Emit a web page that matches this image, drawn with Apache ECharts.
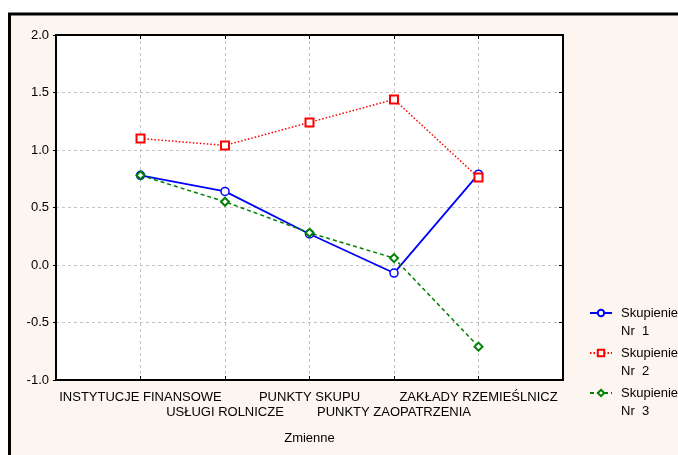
<!DOCTYPE html>
<html>
<head>
<meta charset="utf-8">
<script src="https://cdn.jsdelivr.net/npm/echarts@6/dist/echarts.min.js"></script>
<style>
  html, body { margin: 0; padding: 0; background: #ffffff; }
  #chart { width: 678px; height: 455px; }
</style>
</head>
<body>
<div id="chart"></div>
<script>
// values
var categories = ['INSTYTUCJE FINANSOWE', 'USŁUGI ROLNICZE', 'PUNKTY SKUPU', 'PUNKTY ZAOPATRZENIA', 'ZAKŁADY RZEMIEŚLNICZ'];
var seriesNames = ['Skupienie\nNr  1', 'Skupienie\nNr  2', 'Skupienie\nNr  3'];
var nr1 = [0.78, 0.64, 0.27, -0.07, 0.79];
var nr2 = [1.10, 1.04, 1.24, 1.44, 0.76];
var nr3 = [0.78, 0.55, 0.28, 0.06, -0.71];
var yTicks = [-1.0, -0.5, 0.0, 0.5, 1.0, 1.5, 2.0];

// empty slot at each end so the points sit one step in from the frame
var axisCats = [''].concat(categories).concat(['']);
function pad(arr) {
    return ['-'].concat(arr).concat(['-']);
}

var chart = echarts.init(document.getElementById('chart'));
var font = 'Liberation Sans, Arial, sans-serif';

chart.setOption({
    backgroundColor: '#ffffff',
    animation: false,
    graphic: [{
        type: 'rect',
        z: -10,
        silent: true,
        shape: {x: 9.5, y: 14, width: 700, height: 500},
        style: {fill: '#fdf5ef', stroke: '#000000', lineWidth: 3}
    }],
    grid: {
        left: 56, right: 115, top: 35, bottom: 75,
        show: true,
        backgroundColor: '#ffffff',
        borderColor: '#000000',
        borderWidth: 2
    },
    legend: {
        orient: 'vertical',
        left: 584,
        top: 281,
        itemWidth: 22,
        itemHeight: 8,
        itemGap: -14,
        data: seriesNames,
        // blank first line so the icon lines up with "Skupienie"
        formatter: function (name) { return '\n' + name; },
        textStyle: {
            fontFamily: font, fontSize: 13, color: '#000000', lineHeight: 18,
            padding: [0, 0, 0, 4]
        }
    },
    xAxis: [{
        type: 'category',
        boundaryGap: false,
        data: axisCats,
        name: 'Zmienne',
        nameLocation: 'middle',
        nameGap: 52,
        nameTextStyle: {fontFamily: font, fontSize: 13, color: '#000000'},
        axisLine: {show: true, onZero: false, lineStyle: {color: '#000000', width: 2}},
        axisTick: {show: true, inside: true, length: 4, interval: 0, lineStyle: {color: '#000000'}},
        axisLabel: {
            interval: 0,
            margin: 10,
            fontFamily: font, fontSize: 13, color: '#000000',
            lineHeight: 15,
            formatter: function (v, i) {
                return (i % 2 === 0 && v !== '') ? '\n' + v : v;
            }
        },
        splitLine: {show: true, interval: 0, lineStyle: {color: '#c4c4c4', type: [3, 3], width: 1}}
    }, {
        type: 'category',
        position: 'top',
        boundaryGap: false,
        data: axisCats,
        axisLine: {show: true, onZero: false, lineStyle: {color: '#000000', width: 2}},
        axisTick: {show: true, inside: true, length: 4, interval: 0, lineStyle: {color: '#000000'}},
        axisLabel: {show: false},
        splitLine: {show: false}
    }],
    yAxis: [{
        type: 'value',
        min: yTicks[0],
        max: yTicks[yTicks.length - 1],
        interval: 0.5,
        axisLine: {show: true, lineStyle: {color: '#000000', width: 2}},
        axisTick: {show: true, length: 3, lineStyle: {color: '#000000'}},
        axisLabel: {
            margin: 7,
            fontFamily: font, fontSize: 13, color: '#000000',
            formatter: function (v) { return v.toFixed(1); }
        },
        splitLine: {show: true, lineStyle: {color: '#c4c4c4', type: [3, 3], width: 1}}
    }, {
        type: 'value',
        position: 'right',
        min: yTicks[0],
        max: yTicks[yTicks.length - 1],
        interval: 0.5,
        axisLine: {show: true, lineStyle: {color: '#000000', width: 2}},
        axisTick: {show: true, inside: true, length: 4, lineStyle: {color: '#000000'}},
        axisLabel: {show: false},
        splitLine: {show: false}
    }],
    series: [{
        name: seriesNames[0],
        type: 'line',
        data: pad(nr1),
        symbol: 'circle',
        symbolSize: 8,
        lineStyle: {color: '#0000ff', width: 1.8, type: 'solid'},
        itemStyle: {color: '#ffffff', borderColor: '#0000ff', borderWidth: 1.5}
    }, {
        name: seriesNames[1],
        type: 'line',
        data: pad(nr2),
        symbol: 'rect',
        symbolSize: 8,
        lineStyle: {color: '#ff0000', width: 1.5, type: [1.5, 2]},
        itemStyle: {color: '#ffffff', borderColor: '#ff0000', borderWidth: 2}
    }, {
        name: seriesNames[2],
        type: 'line',
        data: pad(nr3),
        symbol: 'diamond',
        symbolSize: 8,
        lineStyle: {color: '#008000', width: 1.5, type: [4, 3]},
        itemStyle: {color: '#ffffff', borderColor: '#008000', borderWidth: 2}
    }]
});
</script>
</body>
</html>
